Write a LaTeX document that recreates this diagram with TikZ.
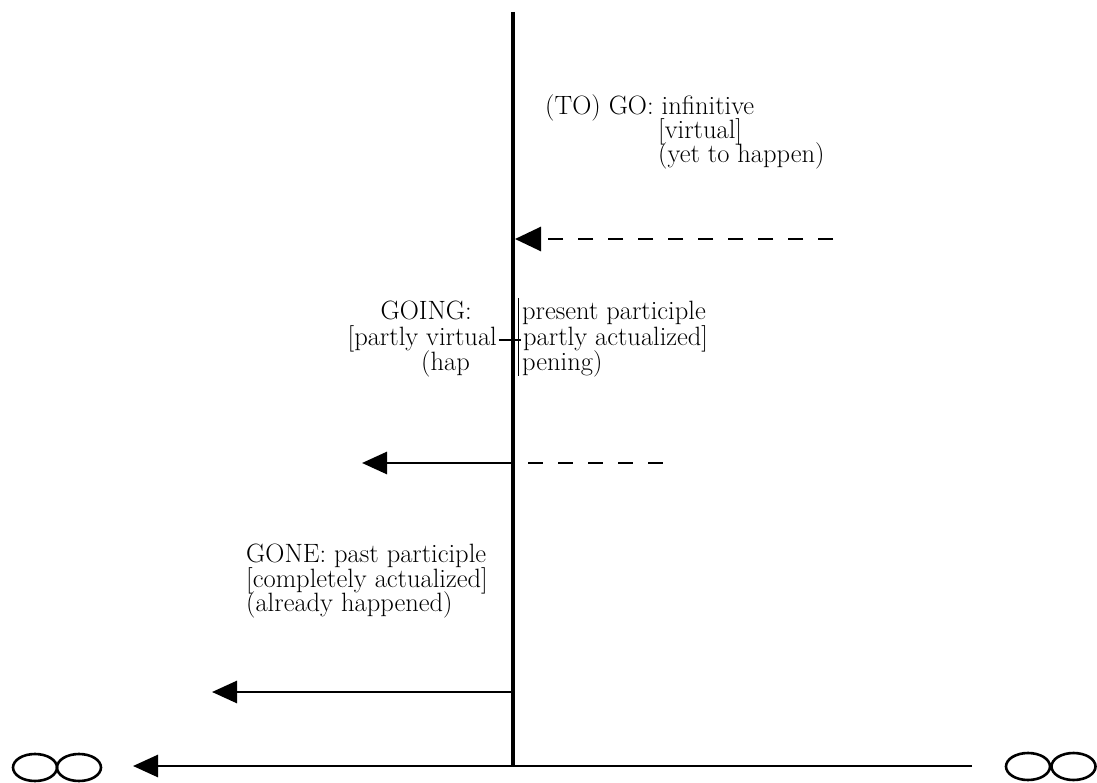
\documentclass[tikz,border=0pt]{standalone}
\usetikzlibrary{arrows.meta}
\begin{document}
\begin{tikzpicture}[x=1pt,y=-1pt,
  lbl/.style={anchor=base west,inner sep=0pt,font=\fontsize{26.5}{26.5}\selectfont},
  lblr/.style={lbl,anchor=base east},
  axisline/.style={line width=3.2pt},
  arr/.style={line width=2.8pt,-{Triangle[length=25pt,width=22pt]}},
  dsh/.style={line width=2.8pt,dash pattern=on 15pt off 15pt},
  dsharr/.style={line width=2.8pt,dash pattern=on 15pt off 15pt,-{Triangle[length=26pt,width=24pt]}},
  infloop/.style={line width=2.6pt},
  thinbar/.style={line width=0.9pt}]
\useasboundingbox (0,0) rectangle (1097,783);
% coordinates
\coordinate (top) at (513,12);
\coordinate (base) at (513,766);
\coordinate (rightend) at (972,766);
\coordinate (lefttip) at (133,766);
\coordinate (a1start) at (833,239);
\coordinate (a1tip) at (515,239);
\coordinate (a2start) at (513,463);
\coordinate (a2tip) at (362,463);
\coordinate (d2start) at (528,463);
\coordinate (d2end) at (672,463);
\coordinate (a3start) at (513,692);
\coordinate (a3tip) at (212,692);
\coordinate (bartop) at (518.5,298);
\coordinate (barbot) at (518.5,376);
\coordinate (dashl) at (499,340);
\coordinate (dashr) at (521,340);
% axes
\draw[axisline] (top) -- (base);
\draw[arr] (rightend) -- (lefttip);
% arrows
\draw[dsharr] (a1start) -- (a1tip);
\draw[arr] (a2start) -- (a2tip);
\draw[dsh] (d2start) -- (d2end);
\draw[arr] (a3start) -- (a3tip);
\draw[thinbar] (bartop) -- (barbot);
\draw[line width=1.3pt] (dashl) -- (dashr);
% infinity signs
\draw[infloop] (35,767.5) ellipse [x radius=22pt, y radius=13.5pt];
\draw[infloop] (79,767.5) ellipse [x radius=22pt, y radius=13.5pt];
\draw[infloop] (1028,766.5) ellipse [x radius=22pt, y radius=13.5pt];
\draw[infloop] (1073.5,766.5) ellipse [x radius=22pt, y radius=13.5pt];
% texts
\node[lbl] (togo) at (545,115) {(TO) GO: infinitive};
\node[lbl] (virt) at (658,139) {[virtual]};
\node[lbl] (yet) at (658,163) {(yet to happen)};
\node[lblr] (going) at (472,319.5) {GOING:};
\node[lblr] (pv) at (497,345) {[partly virtual};
\node[lblr] (hap) at (470,370.5) {(hap};
\node[lbl] (pp) at (522,319.5) {present participle};
\node[lbl] (pa) at (523,345) {partly actualized]};
\node[lbl] (pening) at (522,370.5) {pening)};
\node[lbl] (gone) at (246,562) {GONE: past participle};
\node[lbl] (compl) at (246,587) {[completely actualized]};
\node[lbl] (already) at (246,611) {(already happened)};
\end{tikzpicture}
\end{document}
